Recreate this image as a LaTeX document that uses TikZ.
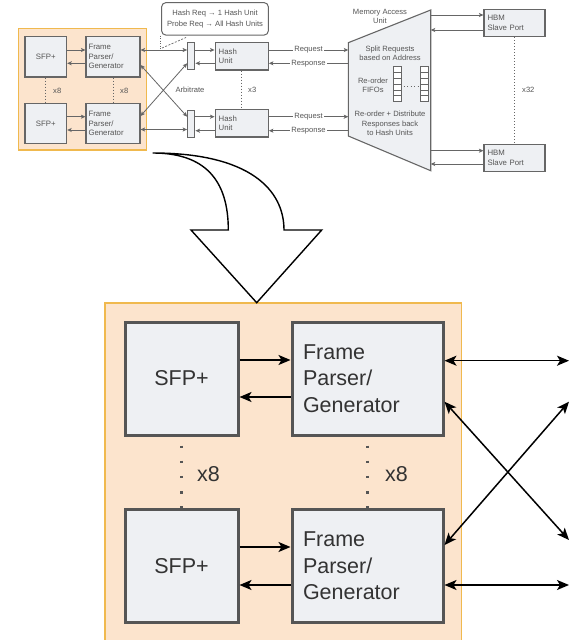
\documentclass[tikz,border=0pt]{standalone}
\usepackage{fontspec}
\setmainfont{Liberation Sans}
\usetikzlibrary{arrows.meta,calc}
\definecolor{pane}{HTML}{FCE4CD}
\definecolor{paneedge}{HTML}{F0B94E}
\definecolor{boxfill}{HTML}{EEF0F3}
\definecolor{boxedge}{HTML}{555555}
\definecolor{ink}{HTML}{333333}
\definecolor{thinline}{HTML}{666666}
\definecolor{thinink}{HTML}{555555}
\begin{document}
\begin{tikzpicture}[x=1pt,y=-1pt,
  bigbox/.style={draw=boxedge,line width=3pt,fill=boxfill,inner sep=0pt,
    font=\fontsize{21.5}{26.5}\selectfont,text=ink},
  bigsfp/.style={bigbox,minimum width=113pt,minimum height=113pt},
  bigfpg/.style={bigbox,text width=129pt,inner xsep=11pt,align=left,minimum height=113pt},
  bigtext/.style={font=\fontsize{21.5}{26.5}\selectfont,text=ink,inner sep=0pt},
  bigwire/.style={line width=1.5pt,black,>={Stealth[length=12pt,width=10pt,inset=3pt]}},
  bigdots/.style={line width=3pt,boxedge,dash pattern=on 2.5pt off 12.7pt},
  smallbox/.style={draw=thinline,line width=1.1pt,fill=boxfill,inner sep=0pt,
    font=\fontsize{7.8}{9.5}\selectfont,text=thinink},
  smallsfp/.style={smallbox,minimum width=41.7pt,minimum height=40.3pt},
  smallfpg/.style={smallbox,text width=49pt,inner xsep=2.5pt,align=left,minimum height=40.3pt},
  smalltext/.style={font=\fontsize{7.6}{9.3}\selectfont,text=thinink,inner sep=0pt,align=center},
  wire/.style={line width=0.8pt,thinline,>={Stealth[length=4.5pt,width=4pt,inset=1pt]}},
  smalldots/.style={line width=1pt,thinline,dash pattern=on 1pt off 2pt},
  pane/.style={fill=pane,draw=paneedge,line width=1.2pt},
  wirelabel/.style={smalltext,fill=white,inner xsep=1pt,inner ysep=0.5pt}]
\clip (0,0) rectangle (570,640);
\fill[white] (0,0) rectangle (570,640);

% ---------------- overview: network side ----------------
\draw[pane] (18.3,28.3) rectangle (146.7,150);
\node[smallsfp] (sfpa) at (45.8,56.8) {SFP+};
\node[smallfpg] (fpga) at (113,56.8) {Frame\\Parser/\\Generator};
\node[smallsfp] (sfpb) at (45.8,123.5) {SFP+};
\node[smallfpg] (fpgb) at (113,123.5) {Frame\\Parser/\\Generator};

\begin{scope}[wire]
  \draw[->] (sfpa.east |- 0,50) -- (fpga.west |- 0,50);
  \draw[->] (fpga.west |- 0,63.3) -- (sfpa.east |- 0,63.3);
  \draw[->] (sfpb.east |- 0,116.7) -- (fpgb.west |- 0,116.7);
  \draw[->] (fpgb.west |- 0,130) -- (sfpb.east |- 0,130);
\end{scope}
\draw[smalldots] (sfpa.south) -- (sfpb.north);
\draw[smalldots] (fpga.south) -- (fpgb.north);
\node[smalltext,anchor=west] (nx8a) at (53,90.7) {x8};
\node[smalltext,anchor=west] (nx8b) at (120,90.7) {x8};

% ---------------- overview: arbiters and hash units ----------------
\node[draw=thinline,line width=1pt,rounded corners=4pt,fill=white,
  minimum width=106.6pt,minimum height=32.3pt,font=\fontsize{7.6}{11}\selectfont,
  text=thinink,align=center,inner sep=0pt] (note) at (215,18.85)
  {Hash Req → 1 Hash Unit\\Probe Req → All Hash Units};

\node[draw=thinline,line width=1pt,fill=boxfill,minimum width=7.3pt,minimum height=26.7pt,inner sep=0pt] (arba) at (191.3,56) {};
\node[draw=thinline,line width=1pt,fill=boxfill,minimum width=7.3pt,minimum height=26.7pt,inner sep=0pt] (arbb) at (191.3,123.8) {};
\node[smalltext] (arblabel) at (190,90) {Arbitrate};

\node[smallbox,text width=46pt,inner xsep=3.6pt,align=left,minimum height=27.3pt] (hasha) at (241.7,56.3) {Hash\\Unit};
\node[smallbox,text width=46pt,inner xsep=3.6pt,align=left,minimum height=27.3pt] (hashb) at (241.7,123.3) {Hash\\Unit};
\draw[smalldots] (hasha.south) -- (hashb.north);
\node[smalltext,anchor=west] (nx3) at (248,90) {x3};

\coordinate (tap) at (160,50);
\draw[thinline,line width=0.7pt,dash pattern=on 1pt off 1.5pt] (tap |- note.south) -- (tap);
\draw[thinline,line width=0.7pt,dash pattern=on 2pt off 1.5pt] (162,48) -- (186,37.5);

\begin{scope}[wire]
  \draw[<->] (fpga.east |- 0,50) -- (arba.west |- 0,50);
  \draw[<->] (fpga.east |- 0,65) -- (arbb.west |- 0,116.7);
  \draw[<->] (fpgb.east |- 0,116) -- (arba.west |- 0,63.3);
  \draw[<->] (fpgb.east |- 0,129.5) -- (arbb.west |- 0,129.5);
  \draw[->] (arba.east |- 0,50) -- (hasha.west |- 0,50);
  \draw[->] (hasha.west |- 0,63.3) -- (arba.east |- 0,63.3);
  \draw[->] (arbb.east |- 0,116.7) -- (hashb.west |- 0,116.7);
  \draw[->] (hashb.west |- 0,130.7) -- (arbb.east |- 0,130.7);
\end{scope}

% ---------------- overview: memory access unit ----------------
\coordinate (mTL) at (348.3,42.7);
\coordinate (mTR) at (430.7,10);
\coordinate (mBR) at (430.7,170.7);
\coordinate (mBL) at (348.3,136);
\draw[thinline,line width=1.1pt,fill=boxfill] (mTL) -- (mTR) -- (mBR) -- (mBL) -- cycle;
\node[smalltext] (maulabel) at (380,16.5) {Memory Access\\Unit};
\node[smalltext] (split) at (390,53.3) {Split Requests\\based on Address};
\node[smalltext] (fifolabel) at (373,85.5) {Re-order\\FIFOs};
\node[smalltext] (distrib) at (390,123.3) {Re-order + Distribute\\Responses back\\to Hash Units};

\foreach \xl in {393.3,420} {
  \draw[thinline,line width=0.8pt,fill=white] (\xl,66) rectangle ++(8.4,35.7);
  \foreach \k in {1,...,5} \draw[thinline,line width=0.6pt] (\xl,66+\k*5.95) -- ++(8.4,0);
}
\draw[thinline,line width=0.8pt,dash pattern=on 1pt off 2.5pt] (403.5,86.5) -- (418.5,86.5);

\begin{scope}[wire]
  \draw[->] (hasha.east |- 0,50) -- node[wirelabel] {Request} (mTL |- 0,50);
  \draw[->] (mTL |- 0,63.3) -- node[wirelabel] {Response} (hasha.east |- 0,63.3);
  \draw[->] (hashb.east |- 0,116.7) -- node[wirelabel] {Request} (mTL |- 0,116.7);
  \draw[->] (mTL |- 0,130.7) -- node[wirelabel] {Response} (hashb.east |- 0,130.7);
\end{scope}

% ---------------- overview: HBM ports ----------------
\node[smallbox,text width=54pt,inner xsep=3.5pt,align=left,minimum height=27.4pt] (hbma) at (514.5,23) {HBM\\Slave Port};
\node[smallbox,text width=54pt,inner xsep=3.5pt,align=left,minimum height=27.4pt] (hbmb) at (514.5,157.8) {HBM\\Slave Port};
\draw[smalldots] (hbma.south) -- (hbmb.north);
\node[smalltext,anchor=west] (nx32) at (522,90) {x32};
\begin{scope}[wire]
  \draw[->] (mTR |- 0,15) -- (hbma.west |- 0,15);
  \draw[->] (hbma.west |- 0,30) -- (mTR |- 0,30);
  \draw[->] (mTR |- 0,150.7) -- (hbmb.west |- 0,150.7);
  \draw[->] (hbmb.west |- 0,164) -- (mTR |- 0,164);
\end{scope}

% ---------------- enlarged network side ----------------
\draw[pane] (105,303) rectangle (461.7,660);
\draw[black,line width=1.4pt,fill=white,line join=miter]
  (152.7,153) .. controls (250,153) and (284,190) .. (284,230)
  -- (321.7,230) -- (256.7,302.7) -- (191,230) -- (228.3,230)
  .. controls (228.3,180) and (205,153) .. cycle;

\node[bigsfp] (sfpA) at (181.5,378.5) {SFP+};
\node[bigfpg] (fpgA) at (367.5,378.5) {Frame\\Parser/\\Generator};
\node[bigsfp] (sfpB) at (181.5,566) {SFP+};
\node[bigfpg] (fpgB) at (367.5,566) {Frame\\Parser/\\Generator};

\draw[bigdots] ([yshift=-9pt]sfpA.south) -- (sfpB.north);
\draw[bigdots] ([yshift=-9pt]fpgA.south) -- (fpgB.north);
\node[bigtext,anchor=west] (x8A) at (197,474) {x8};
\node[bigtext,anchor=west] (x8B) at (385,474) {x8};

\coordinate (r1) at (569,360.7);
\coordinate (r2) at (569,540);
\coordinate (r3) at (569,401.7);
\coordinate (r4) at (569,585);
\begin{scope}[bigwire]
  \draw[->] (sfpA.east |- 0,360) -- (fpgA.west |- 0,360);
  \draw[->] (fpgA.west |- 0,397) -- (sfpA.east |- 0,397);
  \draw[->] (sfpB.east |- 0,547) -- (fpgB.west |- 0,547);
  \draw[->] (fpgB.west |- 0,585) -- (sfpB.east |- 0,585);
  \draw[<->] (fpgA.east |- 0,360.7) -- (r1);
  \draw[<->] (fpgA.east |- 0,401.7) -- (r2);
  \draw[<->] (fpgB.east |- 0,545) -- (r3);
  \draw[<->] (fpgB.east |- 0,585) -- (r4);
\end{scope}
\end{tikzpicture}
\end{document}
